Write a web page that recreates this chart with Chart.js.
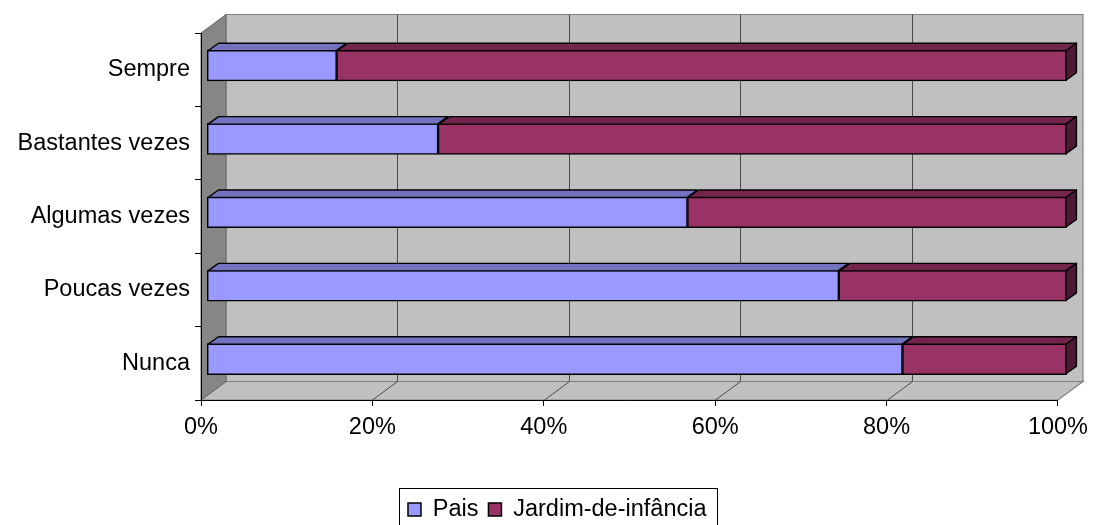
<!DOCTYPE html>
<html>
<head>
<meta charset="utf-8">
<script src="https://cdn.jsdelivr.net/npm/chart.js@4/dist/chart.umd.min.js"></script>
<style>
  html, body { margin: 0; padding: 0; background: #ffffff; }
  #wrap { width: 1095px; height: 525px; }
</style>
</head>
<body>
<div id="wrap"><canvas id="chart" width="1095" height="525"></canvas></div>
<script>
// Categories (top to bottom) and the share of each answer, in percent
const categories = ['Sempre', 'Bastantes vezes', 'Algumas vezes', 'Poucas vezes', 'Nunca'];
const paisValues = [15.1, 26.9, 55.9, 73.5, 80.9];
const jardimValues = [84.9, 73.1, 44.1, 26.5, 19.1];
const seriesNames = ['Pais', 'Jardim-de-infância'];
const xTickValues = [0, 20, 40, 60, 80, 100];

// Look of the pseudo-3D box
const FONT_FAMILY = "'Liberation Sans', Arial, Helvetica, sans-serif";
const FONT_SIZE = 23.5;
const WALL_DX = 25, WALL_DY = 18.5;      // depth of the walls and floor
const BAR_OX = 5.75, BAR_OY = -4.25;     // front face of the bars, set back into the box
const BAR_SX = 863 / 860;                // bars sit a touch wider than the front axis
const BAR_DX = 10.5, BAR_DY = 7.5;       // depth of each bar
const BORDER_W = 1.5;
const LEGEND_SHIFT = 26.75;              // legend sits a little right of the page centre

const faceColors = [
  { front: '#9999FF', top: '#7373C0', side: '#4D4D80' },
  { front: '#993366', top: '#73264D', side: '#4D1A33' }
];

function polygon(ctx, pts, fill, stroke, lw) {
  ctx.beginPath();
  ctx.moveTo(pts[0][0], pts[0][1]);
  for (let i = 1; i < pts.length; i++) ctx.lineTo(pts[i][0], pts[i][1]);
  ctx.closePath();
  if (fill) { ctx.fillStyle = fill; ctx.fill(); }
  if (stroke) { ctx.strokeStyle = stroke; ctx.lineWidth = lw || 1; ctx.stroke(); }
}

const box3d = {
  id: 'box3d',
  afterLayout(chart) {
    const lg = chart.legend;
    if (lg) { lg.left += LEGEND_SHIFT; lg.right += LEGEND_SHIFT; }
  },
  beforeDraw(chart) {
    const { ctx, chartArea: a, scales: { x } } = chart;
    ctx.save();
    ctx.lineJoin = 'miter';
    // back wall
    polygon(ctx, [
      [a.left + WALL_DX, a.top - WALL_DY], [a.right + WALL_DX, a.top - WALL_DY],
      [a.right + WALL_DX, a.bottom - WALL_DY], [a.left + WALL_DX, a.bottom - WALL_DY]
    ], '#C0C0C0', '#808080', 1.2);
    // floor
    polygon(ctx, [
      [a.left, a.bottom], [a.left + WALL_DX, a.bottom - WALL_DY],
      [a.right + WALL_DX, a.bottom - WALL_DY], [a.right, a.bottom]
    ], '#C0C0C0', '#808080', 1.2);
    // side wall
    polygon(ctx, [
      [a.left, a.top], [a.left + WALL_DX, a.top - WALL_DY],
      [a.left + WALL_DX, a.bottom - WALL_DY], [a.left, a.bottom]
    ], '#868686', '#6a6a6a', 1);
    // grid lines on the back wall and across the floor
    ctx.strokeStyle = '#4a4a4a';
    ctx.lineWidth = 1;
    x.ticks.forEach(t => {
      if (t.value <= x.min || t.value >= x.max) return;
      const px = Math.round(x.getPixelForValue(t.value)) + 0.5;
      ctx.beginPath();
      ctx.moveTo(px + WALL_DX, a.top - WALL_DY);
      ctx.lineTo(px + WALL_DX, a.bottom - WALL_DY);
      ctx.lineTo(px, a.bottom);
      ctx.stroke();
    });
    ctx.restore();
  },
  beforeDatasetsDraw(chart) {
    const ctx = chart.ctx, a = chart.chartArea;
    ctx.save();
    ctx.translate(a.left + BAR_OX, BAR_OY);
    ctx.scale(BAR_SX, 1);
    ctx.translate(-a.left, 0);
  },
  afterDatasetsDraw(chart) {
    const ctx = chart.ctx, a = chart.chartArea;
    ctx.restore();
    ctx.save();
    ctx.lineJoin = 'round';
    const mapX = px => a.left + BAR_OX + (px - a.left) * BAR_SX;
    const n = chart.data.datasets.length;
    const inset = BORDER_W / 2;
    chart.data.labels.forEach((_, i) => {
      for (let d = 0; d < n; d++) {
        const el = chart.getDatasetMeta(d).data[i];
        const p = el.getProps(['x', 'y', 'base', 'height'], true);
        const left = mapX(Math.min(p.x, p.base)) + inset;
        const right = mapX(Math.max(p.x, p.base)) - inset;
        const top = p.y - p.height / 2 + BAR_OY + inset;
        const bottom = p.y + p.height / 2 + BAR_OY - inset;
        if (right - left <= 0) continue;
        polygon(ctx, [
          [left, top], [left + BAR_DX, top - BAR_DY],
          [right + BAR_DX, top - BAR_DY], [right, top]
        ], faceColors[d].top, '#000', 1.4);
        if (d === n - 1) {
          polygon(ctx, [
            [right, top], [right + BAR_DX, top - BAR_DY],
            [right + BAR_DX, bottom - BAR_DY], [right, bottom]
          ], faceColors[d].side, '#000', 1.4);
        }
      }
    });
    ctx.restore();
  },
  afterDraw(chart) {
    // frame around the legend
    const lg = chart.legend;
    if (!lg || !lg.legendHitBoxes || !lg.legendHitBoxes.length) return;
    const hb = lg.legendHitBoxes;
    const first = hb[0], last = hb[hb.length - 1];
    const cy = first.top + first.height / 2;
    const ctx = chart.ctx;
    ctx.save();
    ctx.strokeStyle = '#000';
    ctx.lineWidth = 1;
    const l = Math.round(first.left - 9) + 0.5;
    const r = Math.round(last.left + last.width + 10.5) + 0.5;
    const t = Math.round(cy - 22) + 0.5;
    ctx.strokeRect(l, t, r - l, 60);
    ctx.restore();
  }
};

Chart.defaults.font.family = FONT_FAMILY;
Chart.defaults.font.size = FONT_SIZE;
Chart.defaults.color = '#000';

new Chart(document.getElementById('chart'), {
  type: 'bar',
  data: {
    labels: categories,
    datasets: [
      {
        label: seriesNames[0],
        data: paisValues,
        backgroundColor: faceColors[0].front,
        borderColor: '#000',
        borderWidth: BORDER_W,
        borderSkipped: false
      },
      {
        label: seriesNames[1],
        data: jardimValues,
        backgroundColor: faceColors[1].front,
        borderColor: '#000',
        borderWidth: BORDER_W,
        borderSkipped: false
      }
    ]
  },
  options: {
    indexAxis: 'y',
    responsive: false,
    animation: false,
    devicePixelRatio: 1,
    barThickness: 31,
    clip: false,
    layout: { padding: { top: 33, right: 34, bottom: -6.25, left: 0 } },
    plugins: {
      legend: {
        position: 'bottom',
        labels: {
          boxWidth: 13,
          boxHeight: 13,
          padding: 10,
          color: '#000',
          font: { family: FONT_FAMILY, size: FONT_SIZE }
        }
      },
      tooltip: { enabled: false },
      title: { display: false }
    },
    scales: {
      x: {
        type: 'linear',
        stacked: true,
        min: 0,
        max: 100,
        afterBuildTicks(scale) {
          scale.ticks = xTickValues.map(v => ({ value: v }));
        },
        afterFit(scale) { scale.height = 87.75; },
        ticks: {
          callback: v => v + '%',
          padding: 7,
          color: '#000',
          maxRotation: 0,
          font: { family: FONT_FAMILY, size: FONT_SIZE }
        },
        grid: { drawOnChartArea: false, drawTicks: true, tickLength: 6, color: '#000' },
        border: { display: true, color: '#000', width: 1 }
      },
      y: {
        type: 'category',
        stacked: true,
        afterFit(scale) { scale.width = 201; },
        ticks: {
          padding: 5,
          color: '#000',
          font: { family: FONT_FAMILY, size: FONT_SIZE }
        },
        grid: { drawOnChartArea: false, drawTicks: true, tickLength: 6, color: '#000', offset: true },
        border: { display: true, color: '#000', width: 1 }
      }
    }
  },
  plugins: [box3d]
});
</script>
</body>
</html>
